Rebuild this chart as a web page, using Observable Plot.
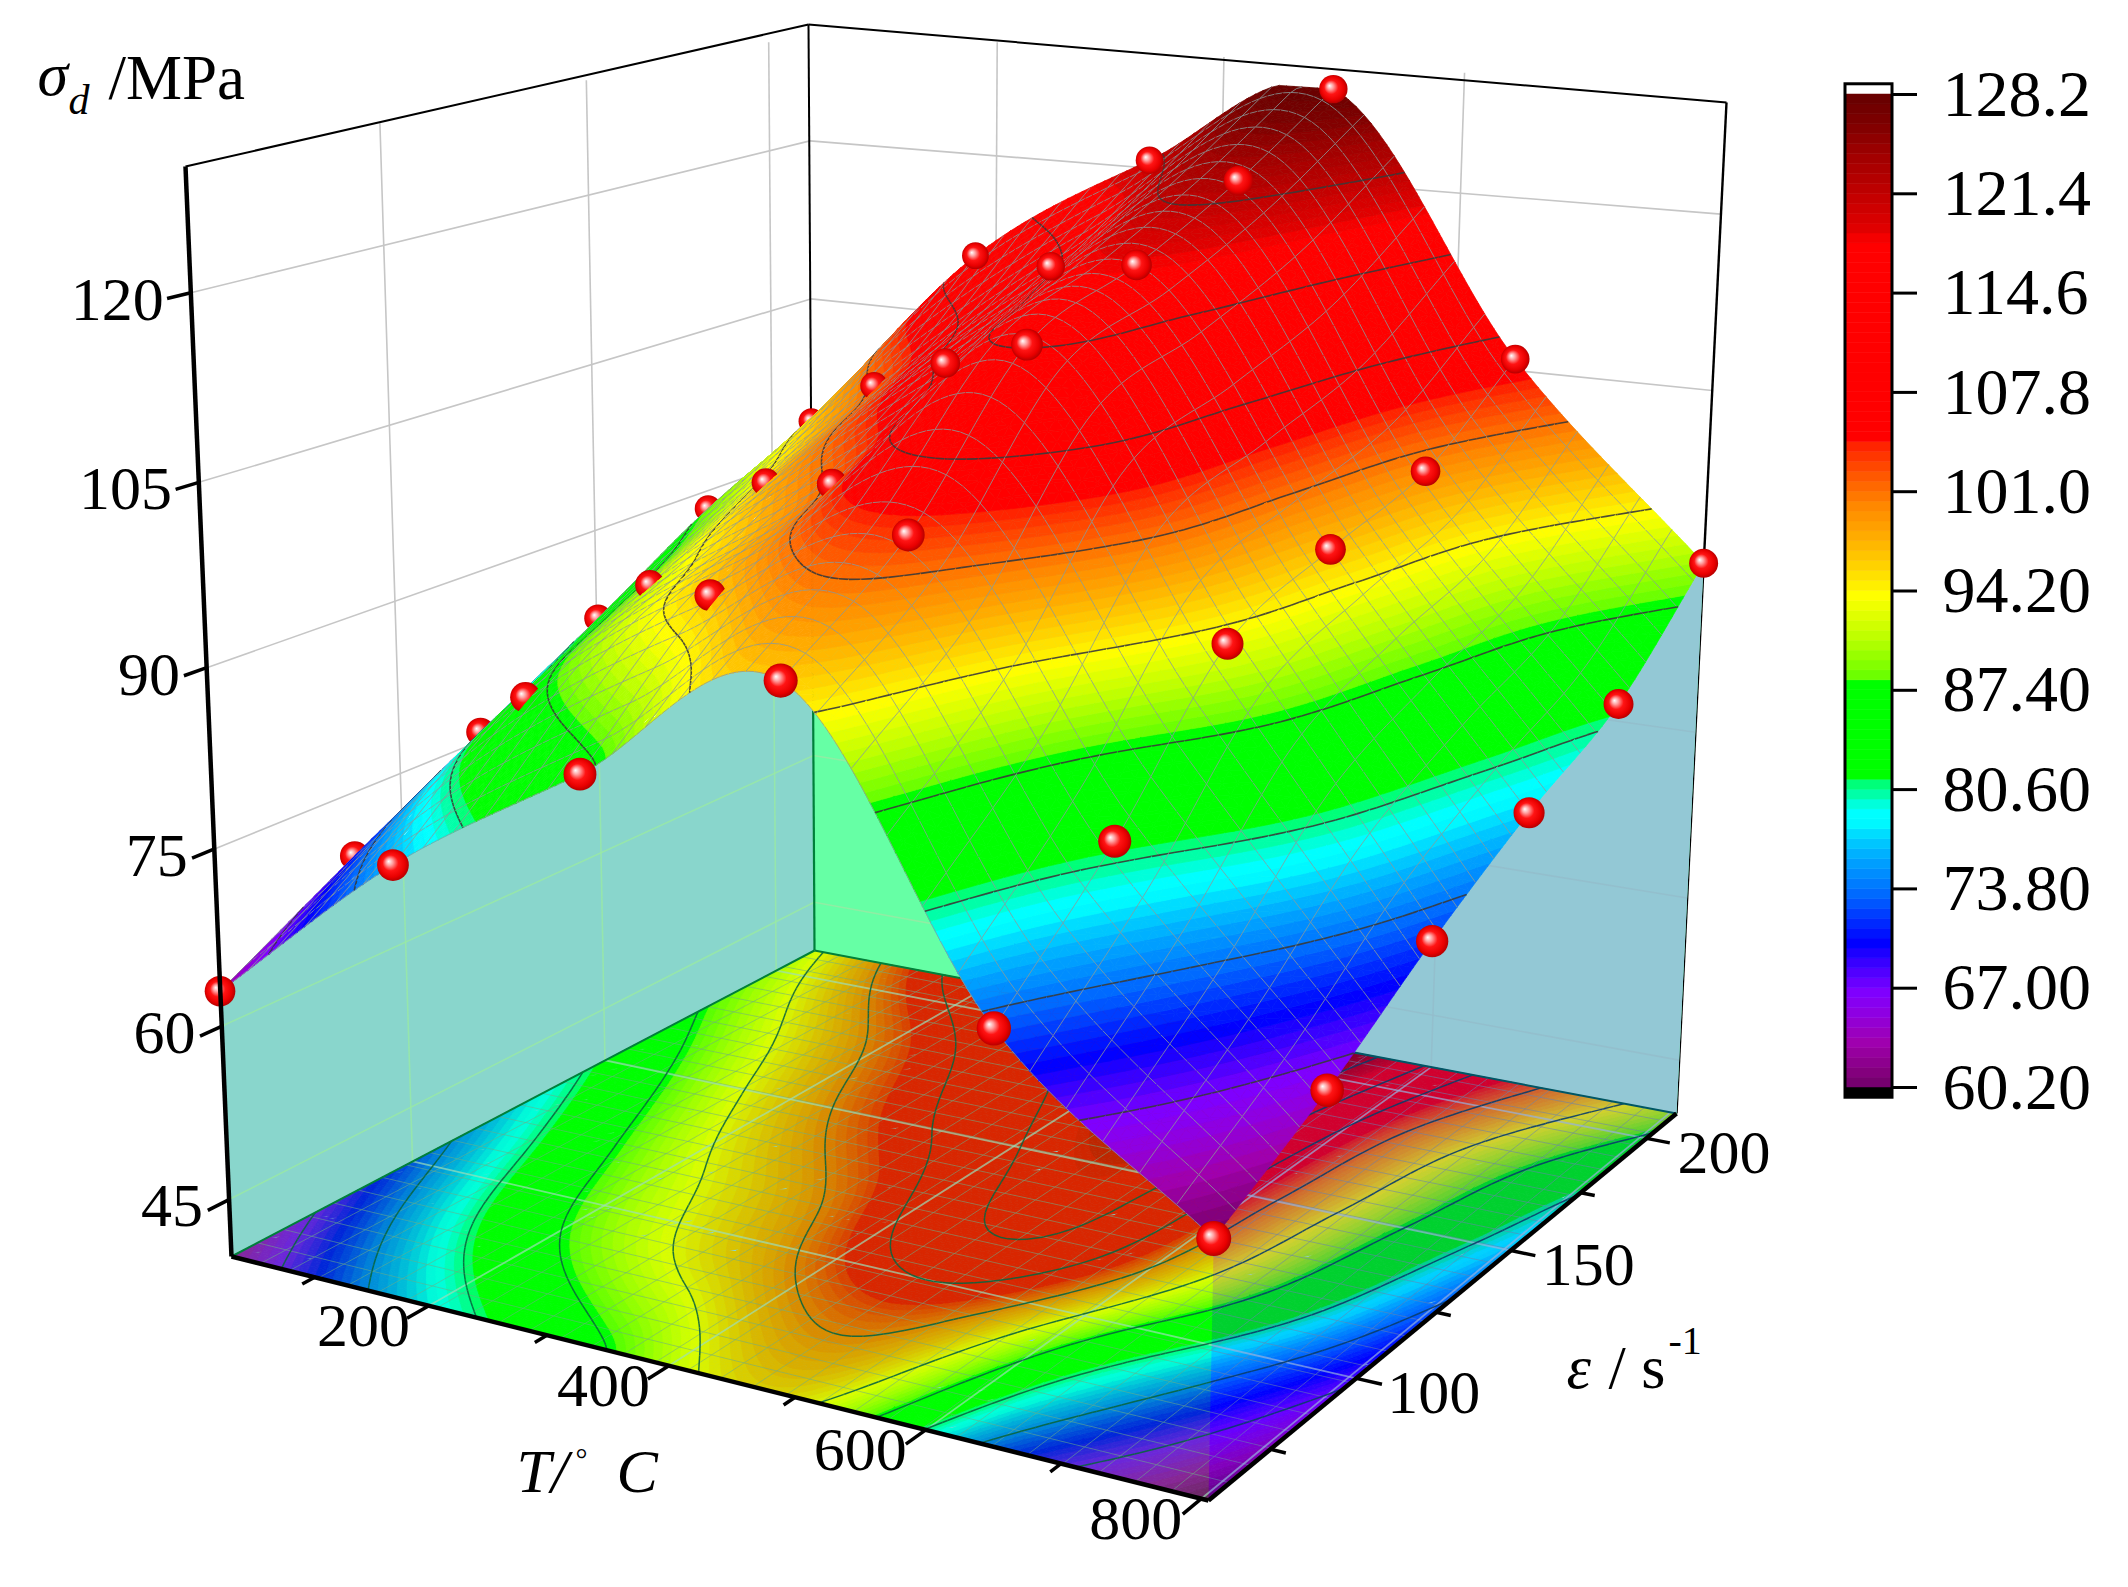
<!DOCTYPE html>
<html><head><meta charset="utf-8">
<style>html,body{margin:0;background:#fff}svg{position:absolute;top:0;left:0}</style>
<script src="https://cdn.jsdelivr.net/npm/d3@7"></script>
<script src="https://cdn.jsdelivr.net/npm/@observablehq/plot@0.6"></script>
</head><body><div id="c" style="position:relative;width:2128px;height:1587px">
<script>
// ---- values ----
const temperatures=[25,181,337,493,649,805];
const strainRates=[58,89,120,150,181,212];
const sigmaT25 =[63.0,69.5,75.8,81.9,88.3,93.2];
const sigmaT181=[76.5,85.7,91.1,96.3,101.6,110.6];
const sigmaT337=[86.5,96.4,101.7,108.5,113.9,120.7];
const sigmaT493=[96.2,103.3,114.8,118.3,122.7,128.2];
const sigmaT649=[72.7,81.9,93.0,96.7,99.6,106.0];
const sigmaT805=[60.2,65.5,71.8,77.3,81.9,90.0];
const sigma=[sigmaT25,sigmaT181,sigmaT337,sigmaT493,sigmaT649,sigmaT805];
const zTicks=[45,60,75,90,105,120];
const tTicks=[200,400,600,800], tMinor=[100,300,500,700];
const rTicks=[100,150,200], rMinor=[75,125,175];
const legendTicks=[60.2,67,73.8,80.6,87.4,94.2,101,107.8,114.6,121.4,128.2];
const contourLevels=legendTicks.slice(1,-1);
const stopValues=[60.2,61,63.3,65.5,66.7,68.5,70.1,71.7,73.1,74.3,75.6,77.2,78.4,79.1,80.8,81.4,81.5,87.9,88,90.8,93.8,96,98,100,101,103,104.2,104.3,118,119,121.4,124,126,128.2];
const stopColors=["#6e0068","#800078","#a000b0","#8c00e8","#7f00ff","#4000ff","#0000ff","#0030ff","#0060ff","#0080ff","#00a0ff","#00d0ff","#00ffff","#00ffff","#00ff80","#00ff60","#00ff00","#00ff00","#60ff00","#b8ff00","#ffff00","#ffd000","#ffaa00","#ff8800","#ff7000","#ff4000","#ff2000","#ff0000","#ff0000","#e00000","#c00000","#a00000","#800000","#660000"];
const tRange=[25,805], rRange=[58,212], zRange=[40,130];
const font="Liberation Serif", fs=62;

// ---- colour bands (the reference's 100-step colour map) ----
const bandStep=0.68, nBands=100, vMin=60.2, vMax=128.2;
const ramp=d3.scaleLinear().domain(stopValues).range(stopColors).interpolate(d3.interpolateRgb).clamp(true);
const bands=d3.range(nBands).map(i=>({lo:vMin+i*bandStep,hi:vMin+(i+1)*bandStep}));
const bandColors=bands.map(b=>ramp((b.lo+b.hi)/2));
const colorScale={type:"threshold",domain:bands.slice(1).map(b=>b.lo),range:bandColors};
const bandOf=s=>Math.max(0,Math.min(nBands-1,Math.floor((s-vMin)/bandStep)));

// ---- perspective box fitted to the corners of the reference's 3D frame ----
const cL=[231,1256,1],cF=[1208,1500,1],cR=[1676,1113,1],cB=[814,950,1];
const frameTops=[[0,0,185,166],[0,1,808,24],[1,1,1726,102]];
function solve3(A,b){const m=A.map((r,i)=>[...r,b[i]]);for(let i=0;i<3;i++){let p=i;for(let j=i;j<3;j++)if(Math.abs(m[j][i])>Math.abs(m[p][i]))p=j;[m[i],m[p]]=[m[p],m[i]];for(let j=0;j<3;j++)if(j!=i){const f=m[j][i]/m[i][i];for(let c=i;c<4;c++)m[j][c]-=f*m[i][c];}}return m.map((r,i)=>r[3]/r[i]);}
const [al,be]=solve3([0,1,2].map(i=>[cF[i],cB[i],-cR[i]]),cL);
const cv=[0,1,2].map(i=>be*cB[i]-cL[i]),cu=[0,1,2].map(i=>al*cF[i]-cL[i]);
const Base=(u,v)=>[0,1,2].map(i=>cL[i]+u*cu[i]+v*cv[i]);
const cw=(()=>{const e=[],r=[];for(const [u,v,x,y] of frameTops){const X=Base(u,v);e.push([1,0,-x]);r.push(x*X[2]-X[0]);e.push([0,1,-y]);r.push(y*X[2]-X[1]);}
  return solve3([0,1,2].map(a=>[0,1,2].map(b=>d3.sum(e,q=>q[a]*q[b]))),[0,1,2].map(a=>d3.sum(e,(q,i)=>q[a]*r[i])));})();
const H=(u,v,w)=>[0,1,2].map(i=>cL[i]+u*cu[i]+v*cv[i]+w*cw[i]);
const P=(u,v,w)=>{const X=H(u,v,w);return {x:X[0]/X[2],y:X[1]/X[2]};};
const U=t=>(t-tRange[0])/(tRange[1]-tRange[0]),V=r=>(r-rRange[0])/(rRange[1]-rRange[0]),W=z=>(z-zRange[0])/(zRange[1]-zRange[0]);

// ---- smooth surface through the 36 read values (spline, as the reference's fitted surface) ----
function node(i,j){
  if(i<0)return 2*node(0,j)-node(1,j); if(i>5)return 2*node(5,j)-node(4,j);
  if(j<0)return 2*node(i,0)-node(i,1); if(j>5)return 2*node(i,5)-node(i,4);
  return sigma[i][j];
}
const cr=(a,b,c,d,t)=>0.5*(2*b+(c-a)*t+(2*a-5*b+4*c-d)*t*t+(3*b-a-3*c+d)*t*t*t);
function surf(u,v){
  const su=Math.min(u*5,4.99999),sv=Math.min(v*5,4.99999),i=Math.floor(su),j=Math.floor(sv),tu=su-i,tv=sv-j;
  const col=[-1,0,1,2].map(d=>cr(node(i+d,j-1),node(i+d,j),node(i+d,j+1),node(i+d,j+2),tv));
  return Math.max(vMin,Math.min(vMax,cr(col[0],col[1],col[2],col[3],tu)));
}
const nu=120,nv=80;
const G=d3.range(nu+1).map(i=>d3.range(nv+1).map(j=>surf(i/nu,j/nv)));
const S=(i,j)=>P(i/nu,j/nv,W(G[i][j]));
const Fl=(i,j)=>P(i/nu,j/nv,0);
const onSurf=q=>P(q[0]/nu,q[1]/nv,W(q[2]));
const onFloor=q=>P(q[0]/nu,q[1]/nv,0);

// ---- split a mesh cell along the colour bands ----
let polyId=0;
function clipBand(poly,lim,keepAbove){
  const out=[];
  for(let k=0;k<poly.length;k++){
    const a=poly[k],b=poly[(k+1)%poly.length];
    const ia=keepAbove?a[2]>=lim:a[2]<=lim, ib=keepAbove?b[2]>=lim:b[2]<=lim;
    if(ia)out.push(a);
    if(ia!==ib){const t=(lim-a[2])/(b[2]-a[2]);out.push([a[0]+t*(b[0]-a[0]),a[1]+t*(b[1]-a[1]),lim]);}
  }
  return out;
}
function emit(rows,poly,b,map){
  const id=polyId++,s=vMin+(b+0.5)*bandStep;
  for(const q of [...poly,poly[0]]){const p=map(q);rows.push({x:p.x,y:p.y,id,s});}
}
function cellRows(rows,i,j,map){
  const c=[[i,j,G[i][j]],[i+1,j,G[i+1][j]],[i+1,j+1,G[i+1][j+1]],[i,j+1,G[i][j+1]]];
  const bs=c.map(q=>bandOf(q[2])),b0=Math.min(...bs),b1=Math.max(...bs);
  if(b0===b1){emit(rows,c,b0,map);return;}
  for(const tri of [[c[0],c[1],c[2]],[c[0],c[2],c[3]]]){
    for(let b=b0;b<=b1;b++){
      let p=clipBand(tri,vMin+b*bandStep,true);
      if(p.length>2)p=clipBand(p,vMin+(b+1)*bandStep,false);
      if(p.length>2)emit(rows,p,b,map);
    }
  }
}
const quadMark=rows=>Plot.line(rows,{x:"x",y:"y",z:"id",fill:"s",stroke:"s",strokeWidth:0.7,strokeLinejoin:"round"});
const linkMark=(rows,o)=>Plot.link(rows,{x1:"x1",y1:"y1",x2:"x2",y2:"y2",...o});
const seg=(a,b)=>({x1:a.x,y1:a.y,x2:b.x,y2:b.y});
function contourCell(i,j,w){
  const out=[],c=[[i,j],[i+1,j],[i+1,j+1],[i,j+1]];
  for(const L of contourLevels){
    const pts=[];
    for(let k=0;k<4;k++){
      const a=c[k],b=c[(k+1)%4],va=G[a[0]][a[1]],vb=G[b[0]][b[1]];
      if((va<L)!==(vb<L)){const t=(L-va)/(vb-va);pts.push(P((a[0]+t*(b[0]-a[0]))/nu,(a[1]+t*(b[1]-a[1]))/nv,w==null?W(L):w));}
    }
    if(pts.length>=2)out.push(seg(pts[0],pts[1]));
    if(pts.length===4)out.push(seg(pts[2],pts[3]));
  }
  return out;
}

// ---- walls ----
const wallGrid=[];
for(const z of zTicks){wallGrid.push(seg(P(0,0,W(z)),P(0,1,W(z))));wallGrid.push(seg(P(0,1,W(z)),P(1,1,W(z))));}
for(const r of rTicks)wallGrid.push(seg(P(0,V(r),0),P(0,V(r),1)));
for(const t of tTicks.slice(0,3))wallGrid.push(seg(P(U(t),1,0),P(U(t),1,1.004)));
const floorGrid=[];
for(const t of tTicks)floorGrid.push(seg(P(U(t),0,0),P(U(t),1,0)));
for(const r of rTicks)floorGrid.push(seg(P(0,V(r),0),P(1,V(r),0)));

const frontEdge=d3.range(nu+1).map(i=>S(i,0));
const backEdge=d3.range(nu+1).map(i=>S(i,nv));
const rightEdge=d3.range(nv+1).map(j=>S(nu,j));
const curtainFront=[...frontEdge,P(1,0,0),P(0,0,0)];
const curtainBack=[...backEdge,P(1,1,0),P(0,1,0)];
const curtainRight=[...rightEdge,P(1,1,0),P(1,0,0)];
const fillPoly=(rows,fill,o={})=>Plot.line(rows,{x:"x",y:"y",fill,stroke:"none",...o});
const clipCurtain={render:(i,s,v,d,c,next)=>{const g=next(i,s,v,d,c);g.setAttribute("clip-path","url(#curt)");return g;}};

// ---- floor ----
const floorRows=[],floorMesh=[],floorContour=[];
for(let i=0;i<nu;i++)for(let j=0;j<nv;j++){
  cellRows(floorRows,i,j,onFloor);
  floorContour.push(...contourCell(i,j,0));
}
for(let j=0;j<=nv;j+=3)for(let i=0;i<nu;i++)floorMesh.push(seg(Fl(i,j),Fl(i+1,j)));
for(let i=0;i<=nu;i+=4)for(let j=0;j<nv;j++)floorMesh.push(seg(Fl(i,j),Fl(i,j+1)));

// ---- spheres ----
const spheres=[];
sigma.forEach((row,i)=>row.forEach((s,j)=>{
  const p=P(i/5,j/5,W(s)),d=H(i/5,j/5,W(s))[2],df=H(1,0,W(60))[2];
  spheres.push({x:p.x,y:p.y,r:17.5*df/d,i,j});
}));
const dotMark=rows=>Plot.dot(rows,{x:"x",y:"y",r:"r",fill:"url(#ball)",stroke:"none"});
const grazing=d=>(d.i===1&&d.j>=1&&d.j<=4)||(d.i===2&&d.j>=1&&d.j<=2);

// ---- surface strips, far to near ----
const surfaceMarks=[];
for(let i=0;i<nu;i++){
  const rows=[],mesh=[],cont=[];
  for(let j=nv-1;j>=0;j--){
    cellRows(rows,i,j,onSurf);
    cont.push(...contourCell(i,j,null));
    if(i%4===0)mesh.push(seg(S(i,j),S(i,j+1)));
    if(j%3===0)mesh.push(seg(S(i,j),S(i+1,j)));
  }
  surfaceMarks.push(quadMark(rows));
  surfaceMarks.push(linkMark(mesh,{stroke:"#8a9a9a",strokeOpacity:0.8,strokeWidth:1}));
  if(cont.length)surfaceMarks.push(linkMark(cont,{stroke:"#3a3a3a",strokeOpacity:0.9,strokeWidth:1.6}));
  const cut=spheres.filter(d=>grazing(d)&&d.i*nu/5+1===i);
  if(cut.length)surfaceMarks.push(dotMark(cut));
}

// ---- ticks and labels ----
const tickSeg=[];
for(const t of tTicks)tickSeg.push(seg(P(U(t),0,0),P(U(t),-0.032,0)));
for(const t of tMinor)tickSeg.push(seg(P(U(t),0,0),P(U(t),-0.018,0)));
for(const r of rTicks)tickSeg.push(seg(P(1,V(r),0),P(1.024,V(r),0)));
for(const r of rMinor)tickSeg.push(seg(P(1,V(r),0),P(1.014,V(r),0)));
for(const z of zTicks)tickSeg.push(seg(P(0,0,W(z)),P(0,-0.03,W(z))));
const tLab=tTicks.map(t=>({...P(U(t),0,0),t:String(t)}));
const rLab=rTicks.map(r=>({...P(1,V(r),0),t:String(r)}));
const zLab=zTicks.map(z=>({...P(0,0,W(z)),t:String(z)}));
const txt=(rows,o)=>Plot.text(rows,{x:"x",y:"y",text:"t",fontFamily:font,fontSize:fs,fill:"#000",stroke:"none",...o});
const note=(t,dx,dy,o={})=>Plot.text([t],{frameAnchor:"top-left",dx,dy,textAnchor:"start",lineAnchor:"middle",fontFamily:font,fontSize:fs,fill:"#000",...o});
const corner=k=>({x:frameTops[k][2],y:frameTops[k][3]});

const svg=Plot.plot({
  width:2128,height:1587,margin:0,
  x:{domain:[0,2128],range:[0,2128],axis:null},
  y:{domain:[0,1587],range:[0,1587],axis:null},
  color:colorScale, r:{type:"identity"},
  style:{background:"#fff",fontFamily:font},
  marks:[
    linkMark(wallGrid,{stroke:"#c6c6c6",strokeWidth:1.6}),
    linkMark([seg(corner(0),corner(1)),seg(corner(1),corner(2)),seg(P(0,1,0),corner(1))],{stroke:"#000",strokeWidth:2}),
    linkMark([seg(P(1,1,0),corner(2))],{stroke:"#000",strokeWidth:2.4}),
    fillPoly(curtainFront,"#a2cff0"),
    fillPoly(curtainBack,"#78ffc2"),
    fillPoly(curtainRight,"#b4f5cc"),
    linkMark(wallGrid,{stroke:"#b4e6c0",strokeWidth:1.6,strokeOpacity:0.8,...clipCurtain}),
    linkMark([seg(P(0,1,0),P(0,1,0.6))],{stroke:"#006a45",strokeWidth:2.2}),
    quadMark(floorRows),
    linkMark(floorMesh,{stroke:"#7f9f9f",strokeOpacity:0.55,strokeWidth:1}),
    linkMark(floorGrid,{stroke:"#b8d8d8",strokeOpacity:0.7,strokeWidth:1.8}),
    linkMark(floorContour,{stroke:"#0b4a4a",strokeWidth:1.5,strokeOpacity:0.9}),
    linkMark([seg(P(0,0,0),P(0,1,0)),seg(P(0,1,0),P(1,1,0))],{stroke:"#006a45",strokeWidth:2}),
    fillPoly(curtainFront,"#00ff00",{fillOpacity:0.15}),
    fillPoly(curtainRight,"#0000ff",{fillOpacity:0.18}),
    dotMark(spheres.filter(d=>d.i===0&&d.j>0)),
    ...surfaceMarks,
    dotMark(spheres.filter(d=>(d.i>0||d.j===0)&&!grazing(d))),
    linkMark([seg(P(0,0,0),P(1,0,0)),seg(P(1,0,0),P(1,1,0)),seg(P(0,0,0),corner(0))],{stroke:"#000",strokeWidth:4.5}),
    linkMark(tickSeg,{stroke:"#000",strokeWidth:3.5}),
    txt(tLab,{textAnchor:"end",dx:-19,dy:20}),
    txt(rLab,{textAnchor:"start",dx:31,dy:15}),
    txt(zLab,{textAnchor:"end",dx:-26,dy:7}),
    note("σ",37,75,{fontStyle:"italic"}),
    note("d",68,100,{fontStyle:"italic",fontSize:42}),
    note("/MPa",108,78,{fontSize:63}),
    note("T/",516,1472,{fontStyle:"italic"}),
    note("°",575,1459,{fontSize:30}),
    note("C",616,1472,{fontStyle:"italic"}),
    note("ε",1566,1368,{fontStyle:"italic"}),
    note("/ s",1608,1368),
    note("-1",1668,1341,{fontSize:40})
  ]
});
const pathOf=pts=>"M"+pts.map(p=>p.x.toFixed(1)+","+p.y.toFixed(1)).join("L")+"Z";
d3.select(svg).insert("defs",":first-child").html(`<radialGradient id="ball" cx="0.5" cy="0.5" r="0.55" fx="0.36" fy="0.38">
<stop offset="0" stop-color="#ffffff"/><stop offset="0.2" stop-color="#ffa0a0"/><stop offset="0.45" stop-color="#ff1414"/><stop offset="0.75" stop-color="#e80000"/><stop offset="1" stop-color="#a00000"/></radialGradient>
<clipPath id="curt"><path d="${pathOf(curtainFront)}"/><path d="${pathOf(curtainBack)}"/><path d="${pathOf(curtainRight)}"/></clipPath>`);
document.getElementById("c").append(svg);

// ---- colour legend ----
const legend=Plot.plot({
  width:298,height:1040,marginLeft:15,marginRight:236,marginTop:24,marginBottom:23,
  x:{domain:[0,1],axis:null},
  y:{domain:[vMin,vMax],axis:null},
  color:colorScale,
  style:{background:"transparent",fontFamily:font,overflow:"visible"},
  marks:[
    Plot.rect([{y1:vMax,y2:vMax+0.7}],{x1:0,x2:1,y1:"y1",y2:"y2",fill:"#fff"}),
    Plot.rect([{y1:vMin-0.7,y2:vMin}],{x1:0,x2:1,y1:"y1",y2:"y2",fill:"#000"}),
    Plot.rect(bands,{x1:0,x2:1,y1:"lo",y2:"hi",fill:d=>d.lo+bandStep/2,stroke:d=>d.lo+bandStep/2,strokeWidth:0.5}),
    Plot.rect([{y1:vMin-0.7,y2:vMax+0.7}],{x1:0,x2:1,y1:"y1",y2:"y2",fill:"none",stroke:"#000",strokeWidth:3}),
    Plot.axisY(legendTicks,{anchor:"right",tickSize:24,tickPadding:26,tickFormat:d3.format(".4r"),fontSize:66,fontFamily:font,label:null,stroke:"#000",strokeWidth:3,color:"#000"})
  ]
});
legend.style.left="1830px"; legend.style.top="70px";
document.getElementById("c").append(legend);
</script></div></body></html>
